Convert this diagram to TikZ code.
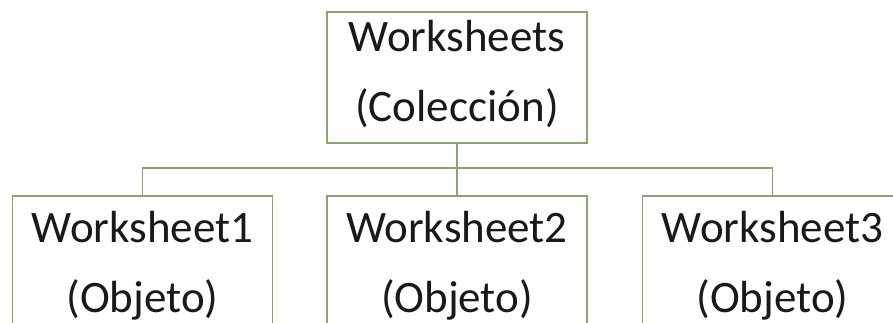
\documentclass[tikz,border=0pt]{standalone}
\usepackage{fontspec}
\setmainfont{Carlito}
\definecolor{boxline}{RGB}{138,165,110}
\begin{document}
\begin{tikzpicture}[x=1pt,y=-1pt,
  box/.style={draw=boxline, line width=1.4pt, fill=white, minimum width=260pt, inner sep=0pt},
  label/.style={anchor=base, align=center, inner sep=0pt, text=black!90,
    font=\fontsize{45}{70}\selectfont},
  link/.style={draw=boxline, line width=1.4pt}]
  \useasboundingbox (0,0) rectangle (893,322);
  \clip (0,0) rectangle (893,322);

  % junction of the tree
  \coordinate (bus) at (457,168);
  % boxes
  \node[box, minimum height=131pt] (coll) at (457,77.5) {};
  \node[box, minimum height=160pt] (ws1) at (142.5,276) {};
  \node[box, minimum height=160pt] (ws2) at (457,276) {};
  \node[box, minimum height=160pt] (ws3) at (772.5,276) {};

  % connectors
  \draw[link] (coll.south) -- (bus);
  \draw[link] (ws1.north) |- (bus) -| (ws3.north);
  \draw[link] (bus) -- (ws2.north);

  % texts (base anchor sits on the last line)
  \node[label] (tcoll) at (457,121) {Worksheets\\(Colección)};
  \node[label] (tws1) at (142.5,312) {Worksheet1\\(Objeto)};
  \node[label] (tws2) at (457,312) {Worksheet2\\(Objeto)};
  \node[label] (tws3) at (772.5,312) {Worksheet3\\(Objeto)};
\end{tikzpicture}
\end{document}
